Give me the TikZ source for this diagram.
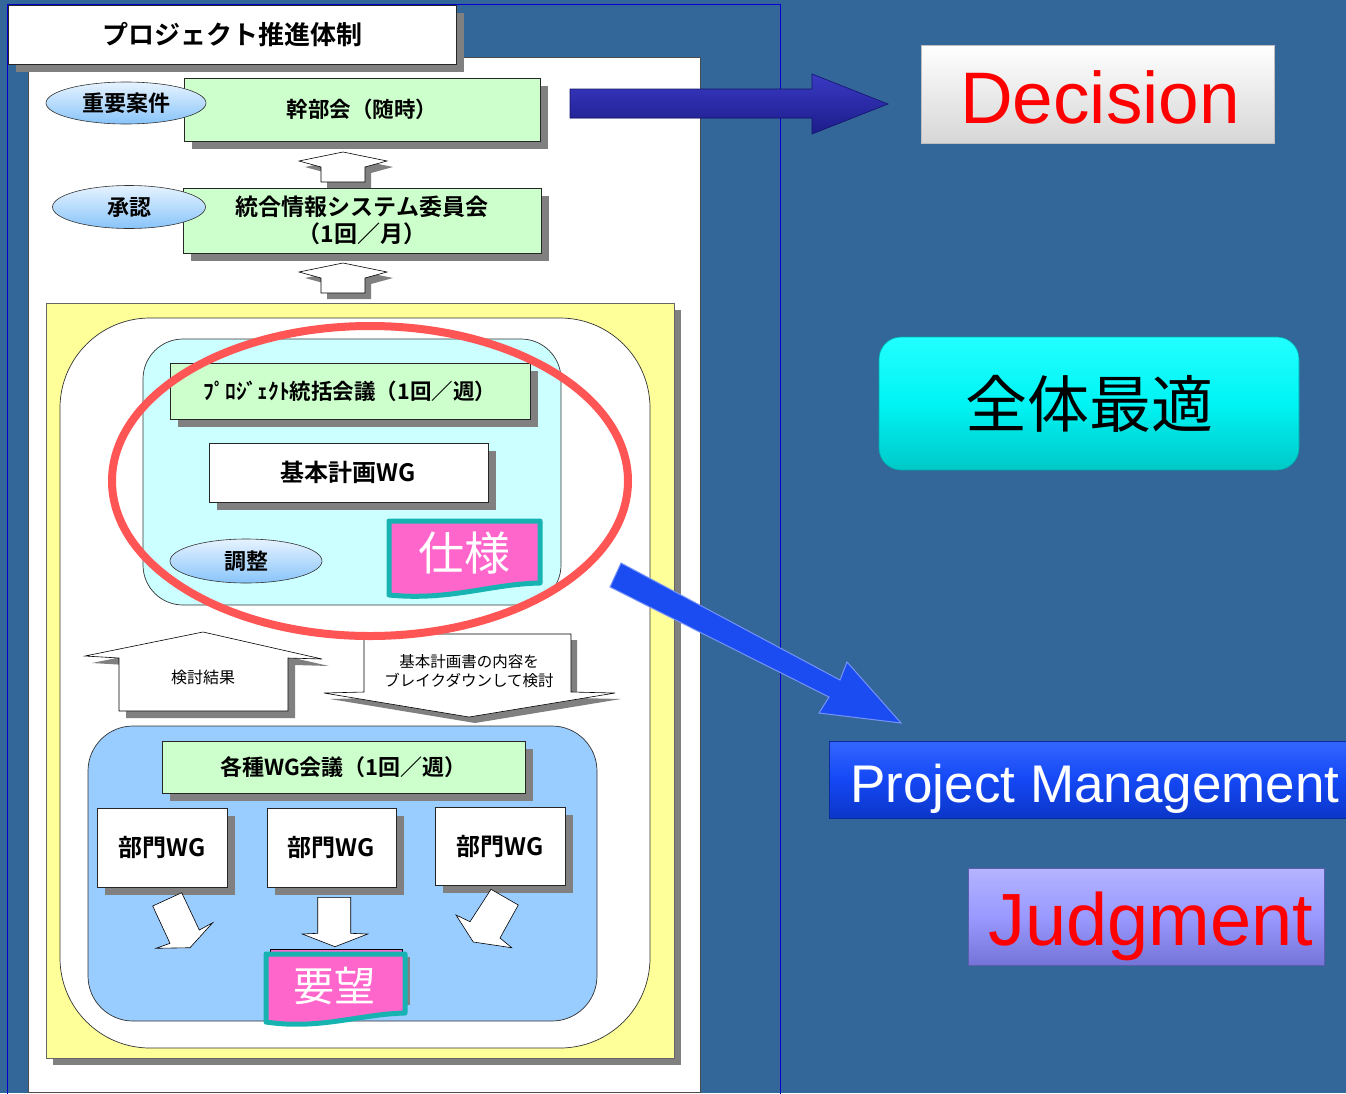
\documentclass[tikz,border=0pt]{standalone}
\usepackage{fontspec}
\setmainfont{Liberation Sans}
\newfontfamily\jpb{Noto Sans CJK JP Bold}
\newfontfamily\jpr{Noto Sans CJK JP}
\usetikzlibrary{shapes.geometric,shadows}
\definecolor{bgblue}{HTML}{336699}
\definecolor{frameblue}{HTML}{0000CC}
\definecolor{shadowgray}{HTML}{808080}
\definecolor{boxgreen}{HTML}{CCFFCC}
\definecolor{panelyellow}{HTML}{FFFF99}
\definecolor{innercyan}{HTML}{CCFFFF}
\definecolor{wgblue}{HTML}{99CCFF}
\definecolor{docpink}{HTML}{FF66CC}
\definecolor{docteal}{HTML}{17B3B3}
\definecolor{ringred}{HTML}{FF5555}
\definecolor{ovaltop}{HTML}{E6F3FF}
\definecolor{ovalbot}{HTML}{88C4FA}
\definecolor{navyA}{HTML}{3A3AC4}
\definecolor{navyB}{HTML}{1C1C8A}
\definecolor{brightblue}{HTML}{1A4CF2}
\definecolor{pmtop}{HTML}{3366FF}
\definecolor{pmmid}{HTML}{1448F5}
\definecolor{pmbot}{HTML}{0C36C8}
\definecolor{jdtop}{HTML}{B4B4FF}
\definecolor{jdmid}{HTML}{9999FF}
\definecolor{jdbot}{HTML}{7474D8}
\definecolor{cytop}{HTML}{22FFFF}
\definecolor{cymid}{HTML}{00F4F4}
\definecolor{cybot}{HTML}{00C8C8}
\tikzset{
  sbox/.style={draw=black!85, line width=0.8pt, inner sep=0pt,
    drop shadow={shadow xshift=8pt, shadow yshift=-8pt, fill=shadowgray, opacity=1}},
  greenbox/.style={sbox, fill=boxgreen},
  whitebox/.style={sbox, fill=white},
  oval/.style={ellipse, draw=black!80, line width=0.6pt, top color=ovaltop,
    bottom color=ovalbot, inner sep=0pt, font=\jpb\fontsize{22}{26}\selectfont},
  jfont/.style={font=\jpb\fontsize{#1}{#1}\selectfont},
  blockarrow/.style={fill=white, draw=black, line width=0.6pt, line join=miter},
  arrowshadow/.style={fill=shadowgray},
  doc/.style={fill=docpink, draw=docteal, line width=5pt, line join=round},
  doctext/.style={text=white, inner sep=0pt, font=\jpr\fontsize{#1}{#1}\selectfont},
  ring/.style={draw=ringred, line width=8pt},
  rounded panel/.style={draw=black!80, line width=0.7pt},
}
\begin{document}
\begin{tikzpicture}[x=1pt,y=-1pt]
\useasboundingbox (0,0) rectangle (1346,1093);
\fill[bgblue] (0,0) rectangle (1346,1093);
\draw[frameblue, line width=1pt] (7,4) rectangle (780,1100);
% page
\draw[fill=white, draw=black!70, line width=0.8pt] (28,57) rectangle (700,1092);
% title
\node[whitebox, minimum width=448pt, minimum height=59pt, jfont=26] (title) at (232,34.5) {プロジェクト推進体制};
% top boxes
\node[greenbox, minimum width=356pt, minimum height=63pt, jfont=21.5] (kanbu) at (362,109.5) {幹部会（随時）};
\node[oval, minimum width=160pt, minimum height=42pt] (juyo) at (126,103) {重要案件};
\node[greenbox, minimum width=358pt, minimum height=65pt, align=center, font=\jpb\fontsize{23}{27}\selectfont] (togo) at (362,220.5) {統合情報システム委員会\\（1回／月）};
\node[oval, minimum width=153pt, minimum height=43pt] (shonin) at (129,207) {承認};
% up arrows
\fill[arrowshadow] (327,188) -- (327,173) -- (305,167) -- (349,158) -- (393,167) -- (371,173) -- (371,188) -- cycle;
\draw[blockarrow] (321,182) -- (321,167) -- (299,161) -- (343,152) -- (387,161) -- (365,167) -- (365,182) -- cycle;
\fill[arrowshadow] (327,299) -- (327,284) -- (305,278) -- (349,269) -- (393,278) -- (371,284) -- (371,299) -- cycle;
\draw[blockarrow] (321,293) -- (321,278) -- (299,272) -- (343,263) -- (387,272) -- (365,278) -- (365,293) -- cycle;
% yellow panel
\fill[shadowgray] (53,310) rectangle (681,1065);
\draw[fill=panelyellow, draw=black!60, line width=0.6pt] (46,303) rectangle (674,1058);
\draw[rounded panel, fill=white, rounded corners=90pt] (60,318) rectangle (650,1048);
% cyan area
\draw[rounded panel, fill=innercyan, rounded corners=40pt] (143,339) rectangle (561,605);
\node[greenbox, minimum width=360pt, minimum height=56pt, jfont=21.5] (pj) at (350,391) {ﾌﾟﾛｼﾞｪｸﾄ統括会議（1回／週）};
\node[whitebox, minimum width=279pt, minimum height=59pt, jfont=24] (kihon) at (348.5,472.5) {基本計画WG};
\node[oval, minimum width=152pt, minimum height=44pt] (chosei) at (246,561) {調整};
\draw[doc] (389,521) -- (540,521) -- (540,583) .. controls (490,584) and (450,601) .. (389,595) -- cycle;
\node[doctext=46] (shiyo) at (464,553) {仕様};
% middle arrows
\fill[arrowshadow] (126,718) -- (126,665) -- (92,663) -- (210,639) -- (329,666) -- (295,665) -- (295,718) -- cycle;
\draw[blockarrow] (119,711) -- (119,658) -- (85,656) -- (203,632) -- (322,659) -- (288,658) -- (288,711) -- cycle;
\node[jfont=16, inner sep=0pt] (kekka) at (203,677) {\jpr 検討結果};
\fill[arrowshadow] (370,640) -- (577,640) -- (577,698) -- (621,699) -- (475,723) -- (330,699) -- (370,698) -- cycle;
\draw[blockarrow] (364,634) -- (571,634) -- (571,692) -- (615,693) -- (469,717) -- (324,693) -- (364,692) -- cycle;
\node[align=center, inner sep=0pt, font=\jpr\fontsize{15.5}{18.5}\selectfont] (break) at (469,671) {基本計画書の内容を\\ブレイクダウンして検討};
% WG area
\draw[rounded panel, fill=wgblue, rounded corners=45pt] (88,726) rectangle (597,1021);
\node[greenbox, minimum width=363pt, minimum height=52pt, jfont=22] (kakushu) at (343.5,767) {各種WG会議（1回／週）};
\node[whitebox, minimum width=130pt, minimum height=79pt, jfont=24] (bumon1) at (162,847.5) {部門WG};
\node[whitebox, minimum width=129pt, minimum height=79pt, jfont=24] (bumon2) at (331.5,847.5) {部門WG};
\node[whitebox, minimum width=130pt, minimum height=78pt, jfont=24] (bumon3) at (500,846) {部門WG};
% small arrows
\draw[blockarrow] (152.7,906) -- (181.7,892.7) -- (199.3,930) -- (212.7,922.7) -- (190,947.7) -- (156,948.3) -- (170,943.3) -- cycle;
\draw[blockarrow] (317.7,897.3) -- (350.7,897.3) -- (350.7,933.3) -- (367.7,934) -- (335,946.7) -- (302.3,934) -- (317.7,933.3) -- cycle;
\draw[blockarrow] (491,889.3) -- (518.3,905) -- (500,938) -- (511.7,947.7) -- (473.3,942) -- (456,915) -- (470,921.7) -- cycle;
% request document
\fill[shadowgray] (404,957) rectangle (410,1005);
\draw[fill=docpink, draw=black, line width=0.6pt] (270,949) rectangle (402,962);
\draw[doc] (266,954) -- (405,954) -- (405,1013) .. controls (360,1014) and (320,1030) .. (266,1022) -- cycle;
\node[doctext=41] (yobo) at (334.5,985.5) {要望};
% red ring
\draw[ring] (370,481) ellipse [x radius=258pt, y radius=155pt];
% right side
\draw[fill=navyB, top color=navyA, bottom color=navyB, draw=navyB!80!black, line width=0.6pt] (570,89) -- (812,89) -- (812,74) -- (888,104) -- (812,134) -- (812,118) -- (570,118) -- cycle;
\node[draw=black!25, line width=0.8pt, top color=white, bottom color=black!16, minimum width=353pt, minimum height=98pt, inner sep=0pt] (decision) at (1097.5,94) {};
\node[anchor=base, text=red, inner sep=0pt, font=\fontsize{73}{80}\selectfont] (dectext) at (1100,123) {Decision};
\node[rounded corners=22pt, top color=cytop, bottom color=cybot, middle color=cymid, draw=cybot!85!black, line width=0.6pt, minimum width=420pt, minimum height=133pt, inner sep=0pt, font=\jpr\fontsize{62}{62}\selectfont] (zentai) at (1089,403.5) {全体最適};
\draw[fill=brightblue, draw=brightblue!60!white, line width=1pt, line join=miter] (621,563) -- (840,680) -- (847,662) -- (901,723) -- (819,713) -- (829,697) -- (610,587) -- cycle;
\node[top color=pmtop, bottom color=pmbot, middle color=pmmid, draw=pmbot!80!black, line width=0.6pt, minimum width=521pt, minimum height=77pt, inner sep=0pt] (pm) at (1089.5,779.5) {};
\node[anchor=base, text=white, inner sep=0pt, font=\fontsize{53}{60}\selectfont] (pmtext) at (1095,802) {Project Management};
\node[top color=jdtop, bottom color=jdbot, middle color=jdmid, draw=jdbot!80!black, line width=0.6pt, minimum width=356pt, minimum height=97pt, inner sep=0pt] (judg) at (1146,916.5) {};
\node[anchor=base, text=red, inner sep=0pt, font=\fontsize{74}{80}\selectfont] (jdtext) at (1151,945) {Judgment};
\end{tikzpicture}
\end{document}
